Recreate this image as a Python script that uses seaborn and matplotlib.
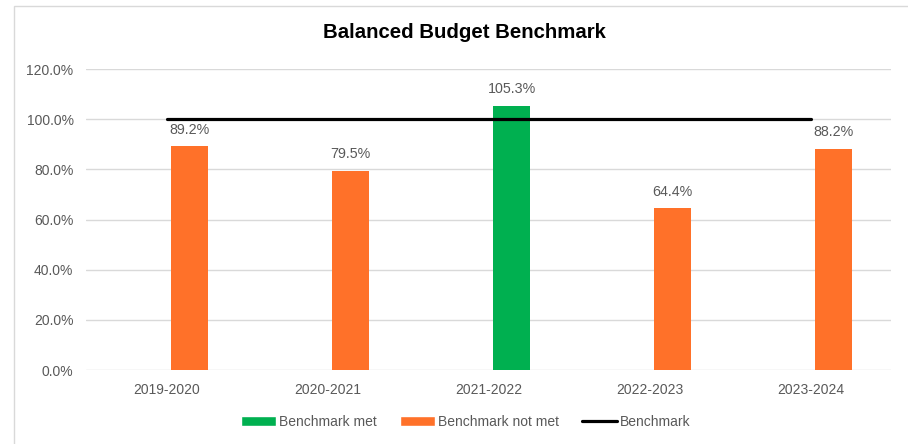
import matplotlib
matplotlib.use("Agg")
import matplotlib.pyplot as plt
from matplotlib.ticker import PercentFormatter
from matplotlib.patches import Patch, Rectangle
from matplotlib.lines import Line2D
import seaborn as sns
import pandas as pd

years = ["2019-2020", "2020-2021", "2021-2022", "2022-2023", "2023-2024"]
values = [0.892, 0.795, 1.053, 0.644, 0.882]
status = ["Benchmark not met", "Benchmark not met", "Benchmark met",
          "Benchmark not met", "Benchmark not met"]
benchmark = [1.0, 1.0, 1.0, 1.0, 1.0]
hue_levels = ["Benchmark met", "Benchmark not met"]
colors = {"Benchmark met": "#00B050", "Benchmark not met": "#FF7129"}

sns.set_theme(style="white")
plt.rcParams["font.family"] = ["Liberation Sans", "DejaVu Sans"]
grey = "#595959"

df = pd.DataFrame({"year": years, "value": values, "status": status})

fig = plt.figure(figsize=(9.08, 4.44), dpi=100)
ax = fig.add_axes([86/908, 1 - 370/444, (891 - 86)/908, (370 - 69)/444])

sns.barplot(data=df, x="year", y="value", hue="status", hue_order=hue_levels,
            order=years, palette=colors, dodge=False, width=0.23,
            saturation=1, ax=ax, legend=False)
# Excel-style offset of bars to the right within each category
for p in ax.patches:
    p.set_x(p.get_x() + 0.143)
    p.set_linewidth(0)

sns.lineplot(x=years, y=benchmark, color="black", lw=2.3, ax=ax,
             solid_capstyle="round", legend=False, zorder=5)

for c in ax.containers:
    ax.bar_label(c, labels=[f"{v*100:.1f}%" for v in c.datavalues],
                 padding=7, fontsize=10.3, color=grey)

ax.set_xlim(-0.5, 4.5)
ax.set_ylim(0, 1.2)
ax.set_yticks([0, 0.2, 0.4, 0.6, 0.8, 1.0, 1.2])
ax.yaxis.set_major_formatter(PercentFormatter(xmax=1, decimals=1))
ax.set_xlabel("")
ax.set_ylabel("")
ax.grid(axis="y", color="#d9d9d9", lw=1)
ax.set_axisbelow(True)
for s in ax.spines.values():
    s.set_visible(False)
ax.tick_params(axis="both", length=0, labelsize=10, labelcolor=grey)
ax.tick_params(axis="x", pad=9)
ax.tick_params(axis="y", pad=9)

fig.text(464/908, 1 - 33/444, "Balanced Budget Benchmark", ha="center",
         va="center", fontsize=14.7, fontweight="bold", color="black")

handles = [Patch(facecolor=colors["Benchmark met"]),
           Patch(facecolor=colors["Benchmark not met"]),
           Line2D([0], [0], color="black", lw=2.3, solid_capstyle="round")]
labels = ["Benchmark met", "Benchmark not met", "Benchmark"]
leg = fig.legend(handles, labels, loc="center", bbox_to_anchor=(466/908, 1 - 422/444),
                 ncol=3, frameon=False, fontsize=10, handlelength=2.5,
                 handleheight=0.7, handletextpad=0.2, columnspacing=1.7)
for t in leg.get_texts():
    t.set_color(grey)

fig.patches.append(Rectangle((14/908, -0.1), 1.1, 1 - 6/444 + 0.1,
                             transform=fig.transFigure, fill=False,
                             edgecolor="#d9d9d9", lw=1))

fig.savefig("out.png", dpi=100)
